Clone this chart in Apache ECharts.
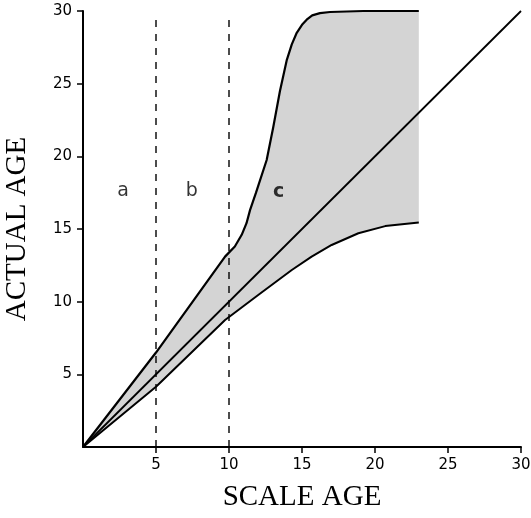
<!DOCTYPE html>
<html>
<head>
<meta charset="utf-8">
<script src="https://cdn.jsdelivr.net/npm/echarts@6/dist/echarts.min.js"></script>
<style>
  html, body { margin: 0; padding: 0; background: #fff; }
  #chart { width: 531px; height: 518px; }
</style>
</head>
<body>
<div id="chart"></div>
<script>
// upper edge of the shaded band (scale age, actual age)
var upperEdge = [[0, 0], [5, 6.5], [9.73, 13.1], [10.4, 13.8], [10.87, 14.6], [11.2, 15.4],
  [11.44, 16.3], [11.85, 17.5], [12.58, 19.75], [13.03, 22.0], [13.49, 24.5], [13.95, 26.6],
  [14.3, 27.7], [14.64, 28.5], [15.0, 29.05], [15.32, 29.4], [15.7, 29.7], [16.23, 29.85],
  [16.92, 29.93], [19.2, 30], [23, 30]];
// lower edge of the band
var lowerEdge = [[0, 0], [5, 4.15], [9.73, 8.74], [12.0, 10.46], [14.3, 12.18], [15.66, 13.1],
  [17.03, 13.9], [18.86, 14.71], [20.7, 15.2], [23, 15.44]];
var diagonal = [[0, 0], [30, 30]];
var dividerA = [[5, 0], [5, 29.6]];
var dividerB = [[10, 0], [10, 29.6]];
var zoneNames = ['a', 'b', 'c'];
var zoneX = [2.75, 7.45, 13.4];
var zoneY = [17.6, 17.6, 17.55];
var tickValues = [5, 10, 15, 20, 25, 30];

var ink = '#000';
var labelFont = 'DejaVu Sans';
var titleFont = 'Liberation Serif';

var myChart = echarts.init(document.getElementById('chart'));

function axisCommon(name, gap) {
  return {
    type: 'value',
    min: 0,
    max: 30,
    interval: 5,
    name: name,
    nameLocation: 'middle',
    nameGap: gap,
    nameTextStyle: { fontFamily: titleFont, fontSize: 29, color: ink },
    axisLine: { show: true, onZero: false, lineStyle: { color: ink, width: 2 } },
    axisTick: { show: true, length: 6, customValues: tickValues, lineStyle: { color: ink, width: 1.5 } },
    axisLabel: { customValues: tickValues, margin: 11, fontFamily: labelFont, fontSize: 15, color: ink },
    splitLine: { show: false }
  };
}

myChart.setOption({
  animation: false,
  grid: { left: 83, right: 10, top: 11, bottom: 71, outerBoundsMode: 'none' },
  xAxis: axisCommon('SCALE AGE', 36),
  yAxis: axisCommon('ACTUAL AGE', 51),
  series: [
    {
      // shaded band between the two edges
      type: 'custom',
      silent: true,
      z: 1,
      data: [[0, 0]],
      renderItem: function (params, api) {
        var pts = upperEdge.map(function (p) { return api.coord(p); });
        var low = lowerEdge.slice().reverse().map(function (p) { return api.coord(p); });
        return { type: 'polygon', shape: { points: pts.concat(low) }, style: { fill: '#d4d4d4' } };
      }
    },
    {
      type: 'line', data: upperEdge, showSymbol: false, clip: false, z: 3,
      lineStyle: { color: ink, width: 2.2 }
    },
    {
      type: 'line', data: lowerEdge, showSymbol: false, clip: false, z: 3,
      lineStyle: { color: ink, width: 2 }
    },
    {
      type: 'line', data: diagonal, showSymbol: false, clip: false, z: 3,
      lineStyle: { color: ink, width: 1.8 }
    },
    {
      type: 'line', data: dividerA, showSymbol: false, z: 2,
      lineStyle: { color: ink, width: 1.4, type: [7, 7] }
    },
    {
      type: 'line', data: dividerB, showSymbol: false, z: 2,
      lineStyle: { color: ink, width: 1.4, type: [7, 7] }
    },
    {
      type: 'scatter',
      symbolSize: 1,
      itemStyle: { color: 'transparent' },
      z: 4,
      data: zoneNames.map(function (n, i) {
        return { name: n, value: [zoneX[i], zoneY[i]], label: { fontWeight: n === 'c' ? 'bold' : 'normal' } };
      }),
      label: {
        show: true, position: 'inside', formatter: '{b}',
        fontFamily: labelFont, fontSize: 19, color: ink, textBorderWidth: 0
      }
    }
  ]
});
</script>
</body>
</html>
